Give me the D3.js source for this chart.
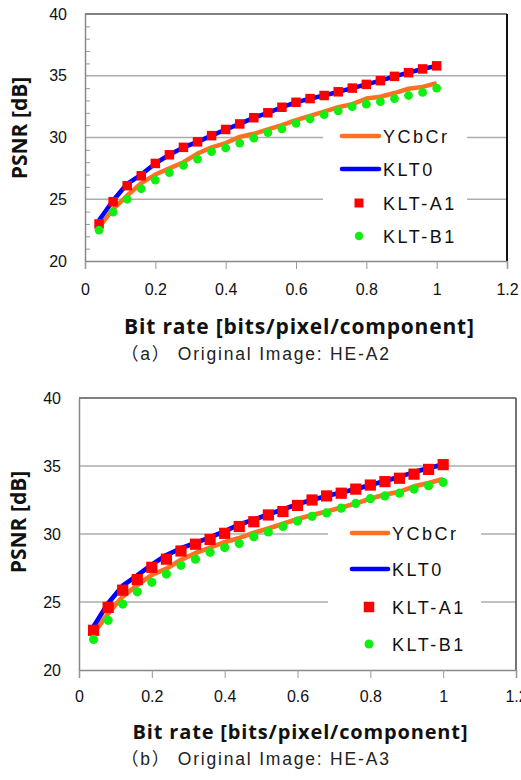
<!DOCTYPE html>
<html><head><meta charset="utf-8">
<script src="https://cdn.jsdelivr.net/npm/d3@7/dist/d3.min.js"></script>
<style>body{margin:0;background:#fff}svg{display:block}</style>
</head><body>
<svg id="c" width="521" height="780"></svg>
<script>
// ---------- data ----------
const bitRates = [0.04,0.08,0.12,0.16,0.20,0.24,0.28,0.32,0.36,0.40,0.44,0.48,0.52,0.56,0.60,0.64,0.68,0.72,0.76,0.80,0.84,0.88,0.92,0.96,1.00];
const seriesNames = ["YCbCr","KLT0","KLT-A1","KLT-B1"];
const xTickValues = [0,0.2,0.4,0.6,0.8,1,1.2];
const xTickLabels = ["0","0.2","0.4","0.6","0.8","1","1.2"];
const yTickValues = [20,25,30,35,40];
const yTickLabels = ["20","25","30","35","40"];
const xAxisTitle = "Bit rate [bits/pixel/component]";
const yAxisTitle = "PSNR [dB]";
const captions = ["（a） Original Image: HE-A2","（b） Original Image: HE-A3"];

// HE-A2
const a2YCbCr = [22.75,24.2,25.3,26.3,27.0,27.5,28.0,28.7,29.2,29.55,30.05,30.3,30.65,31.0,31.4,31.75,32.1,32.45,32.7,33.15,33.3,33.6,33.95,34.1,34.4];
const a2KLT0  = [23.3,24.9,26.25,27.0,27.9,28.6,29.2,29.65,30.15,30.65,31.1,31.6,32.0,32.45,32.85,33.15,33.4,33.7,34.0,34.3,34.6,34.95,35.25,35.55,35.8];
const a2KLTA1 = [23.0,24.8,26.1,26.9,27.9,28.6,29.2,29.65,30.15,30.65,31.1,31.6,32.0,32.45,32.85,33.15,33.4,33.7,34.0,34.3,34.6,34.95,35.25,35.55,35.8];
const a2KLTB1 = [22.5,23.95,25.0,25.85,26.55,27.15,27.75,28.25,28.85,29.15,29.55,29.95,30.4,30.7,31.15,31.5,31.85,32.15,32.5,32.7,32.9,33.15,33.4,33.65,34.0];
// HE-A3
const a3YCbCr = [22.7,24.15,25.4,26.25,27.0,27.45,28.1,28.6,29.0,29.4,29.7,30.1,30.4,30.75,31.1,31.4,31.65,31.95,32.25,32.6,32.9,33.1,33.5,33.75,34.05];
const a3KLT0  = [23.2,24.9,26.2,26.95,27.75,28.45,28.95,29.35,29.75,30.2,30.7,31.05,31.45,31.8,32.2,32.5,32.8,33.05,33.3,33.6,33.9,34.2,34.55,34.85,35.1];
const a3KLTA1 = [22.92,24.6,25.87,26.65,27.55,28.15,28.75,29.25,29.6,30.05,30.55,30.9,31.4,31.65,32.1,32.5,32.8,33.0,33.3,33.6,33.85,34.1,34.4,34.75,35.1];
const a3KLTB1 = [22.25,23.65,24.85,25.75,26.45,27.05,27.7,28.15,28.65,29.0,29.3,29.8,30.15,30.55,30.95,31.3,31.55,31.9,32.25,32.6,32.8,33.0,33.3,33.55,33.8];

// ---------- style / layout ----------
const colors = {"YCbCr":"#FF7020","KLT0":"#0000FF","KLT-A1":"#FF0000","KLT-B1":"#11EE11"};
const kinds  = {"YCbCr":"line","KLT0":"line","KLT-A1":"square","KLT-B1":"circle"};

const layouts = [
  {series:[a2YCbCr,a2KLT0,a2KLTA1,a2KLTB1], caption:captions[0],
   l:85,r:507,t:14,b:261, minor:true, sq:9.5, cr:4.4, lw:4.5, legSq:9, legCr:4.2, rightCol:"#111", rightW:2, tickPad:15,
   yLabX:20,yLabY:128, xLabX:299,xLabY:334,xLabFs:21,xLabLen:350, capX:121,capY:360,
   leg:{x0:323,x1:467,y0:120,y1:252, lx1:342,lx2:379, mx:359, tx:383, rows:[136,169,203,236]}},
  {series:[a3YCbCr,a3KLT0,a3KLTA1,a3KLTB1], caption:captions[1],
   l:79,r:516,t:398,b:670, minor:false, sq:11.2, cr:4.6, lw:4.7, legSq:10.5, legCr:4.5, rightCol:"#444", rightW:1.5, tickPad:13,
   yLabX:19,yLabY:522, xLabX:300,xLabY:739,xLabFs:20,xLabLen:335, capX:121,capY:765,
   leg:{x0:328,x1:481,y0:515,y1:660, lx1:352,lx2:388, mx:369, tx:392, rows:[533,569,607,644]}}
];

const svg = d3.select("#c");
const tickFont = "'Liberation Sans', Arial, sans-serif";
const boldFont = "'Open Sans', 'Liberation Sans', sans-serif";

layouts.forEach(L => {
  const g = svg.append("g");
  const x = d3.scaleLinear().domain([0,1.2]).range([L.l, L.r]);
  const y = d3.scaleLinear().domain([20,40]).range([L.b, L.t]);

  // gridlines
  g.append("g").selectAll("line").data(yTickValues.filter(v => v>20 && v<40)).join("line")
    .attr("x1", L.l).attr("x2", L.r).attr("y1", d=>y(d)).attr("y2", d=>y(d))
    .attr("stroke","#ADADAD").attr("stroke-width",1.5);

  // minor ticks (inside)
  if (L.minor) {
    const minorVals = d3.range(21,40).filter(v => v % 5 !== 0);
    const ma = g.append("g").attr("transform",`translate(${L.l},0)`)
      .call(d3.axisRight(y).tickValues(minorVals).tickSize(5).tickFormat(""));
    ma.select(".domain").remove();
    ma.selectAll("line").attr("stroke","#999").attr("stroke-width",1);
  }

  // frame top/right
  g.append("line").attr("x1",L.l).attr("x2",L.r).attr("y1",L.t).attr("y2",L.t)
    .attr("stroke","#555").attr("stroke-width",1.5);
  g.append("line").attr("x1",L.r).attr("x2",L.r).attr("y1",L.t).attr("y2",L.b)
    .attr("stroke",L.rightCol).attr("stroke-width",L.rightW);

  // x axis
  const xa = g.append("g").attr("transform",`translate(0,${L.b})`)
    .call(d3.axisBottom(x).tickValues(xTickValues).tickSize(8).tickPadding(L.tickPad)
      .tickFormat((d,i)=>xTickLabels[i]));
  xa.select(".domain").attr("stroke","#888").attr("stroke-width",1.5);
  xa.selectAll("line").attr("stroke","#999").attr("stroke-width",1);
  xa.selectAll("text").attr("font-family",tickFont).attr("font-size",16).attr("fill","#111");

  // y axis
  const ya = g.append("g").attr("transform",`translate(${L.l},0)`)
    .call(d3.axisLeft(y).tickValues(yTickValues).tickSize(0).tickPadding(18)
      .tickFormat((d,i)=>yTickLabels[i]));
  ya.select(".domain").attr("stroke","#888").attr("stroke-width",1.5);
  ya.selectAll("text").attr("font-family",tickFont).attr("font-size",16).attr("fill","#111");

  // legend background
  g.append("rect").attr("x",L.leg.x0).attr("y",L.leg.y0)
    .attr("width",L.leg.x1-L.leg.x0).attr("height",L.leg.y1-L.leg.y0).attr("fill","#fff");

  // series
  const line = d3.line().x((d,i)=>x(bitRates[i])).y(d=>y(d));
  seriesNames.forEach((name, si) => {
    const vals = L.series[si];
    const col = colors[name];
    if (kinds[name]==="line") {
      g.append("path").datum(vals).attr("d",line).attr("fill","none")
        .attr("stroke",col).attr("stroke-width",L.lw).attr("stroke-linejoin","round");
    } else if (kinds[name]==="square") {
      g.append("g").selectAll("rect").data(vals).join("rect")
        .attr("x",(d,i)=>x(bitRates[i])-L.sq/2).attr("y",d=>y(d)-L.sq/2)
        .attr("width",L.sq).attr("height",L.sq).attr("fill",col);
    } else {
      g.append("g").selectAll("circle").data(vals).join("circle")
        .attr("cx",(d,i)=>x(bitRates[i])).attr("cy",d=>y(d)).attr("r",L.cr).attr("fill",col);
    }
  });

  // legend
  const lg = g.append("g");
  seriesNames.forEach((name, si) => {
    const ry = L.leg.rows[si];
    const col = colors[name];
    if (kinds[name]==="line") {
      lg.append("line").attr("x1",L.leg.lx1).attr("x2",L.leg.lx2).attr("y1",ry).attr("y2",ry)
        .attr("stroke",col).attr("stroke-width",L.lw).attr("stroke-linecap","round");
    } else if (kinds[name]==="square") {
      lg.append("rect").attr("x",L.leg.mx-L.legSq/2).attr("y",ry-L.legSq/2)
        .attr("width",L.legSq).attr("height",L.legSq).attr("fill",col);
    } else {
      lg.append("circle").attr("cx",L.leg.mx).attr("cy",ry).attr("r",L.legCr).attr("fill",col);
    }
    lg.append("text").attr("x",L.leg.tx).attr("y",ry+6.5).text(name)
      .attr("font-family",tickFont).attr("font-size",18).attr("letter-spacing","2.5px").attr("fill","#111");
  });

  // axis titles
  g.append("text").attr("transform",`translate(${L.yLabX},${L.yLabY}) rotate(-90)`)
    .attr("text-anchor","middle").attr("dy","0.35em").text(yAxisTitle)
    .attr("font-family",boldFont).attr("font-weight","bold").attr("font-size",21).attr("fill","#111");
  g.append("text").attr("x",L.xLabX).attr("y",L.xLabY).attr("text-anchor","middle").text(xAxisTitle)
    .attr("font-family",boldFont).attr("font-weight","bold").attr("font-size",L.xLabFs)
    .attr("textLength",L.xLabLen).attr("lengthAdjust","spacing").attr("fill","#111");

  // caption
  g.append("text").attr("x",L.capX).attr("y",L.capY).text(L.caption)
    .attr("font-family","'Liberation Sans','Noto Sans CJK JP',sans-serif").attr("font-size",17.5)
    .attr("letter-spacing","1.8px").attr("fill","#222");
});
</script>
</body></html>
